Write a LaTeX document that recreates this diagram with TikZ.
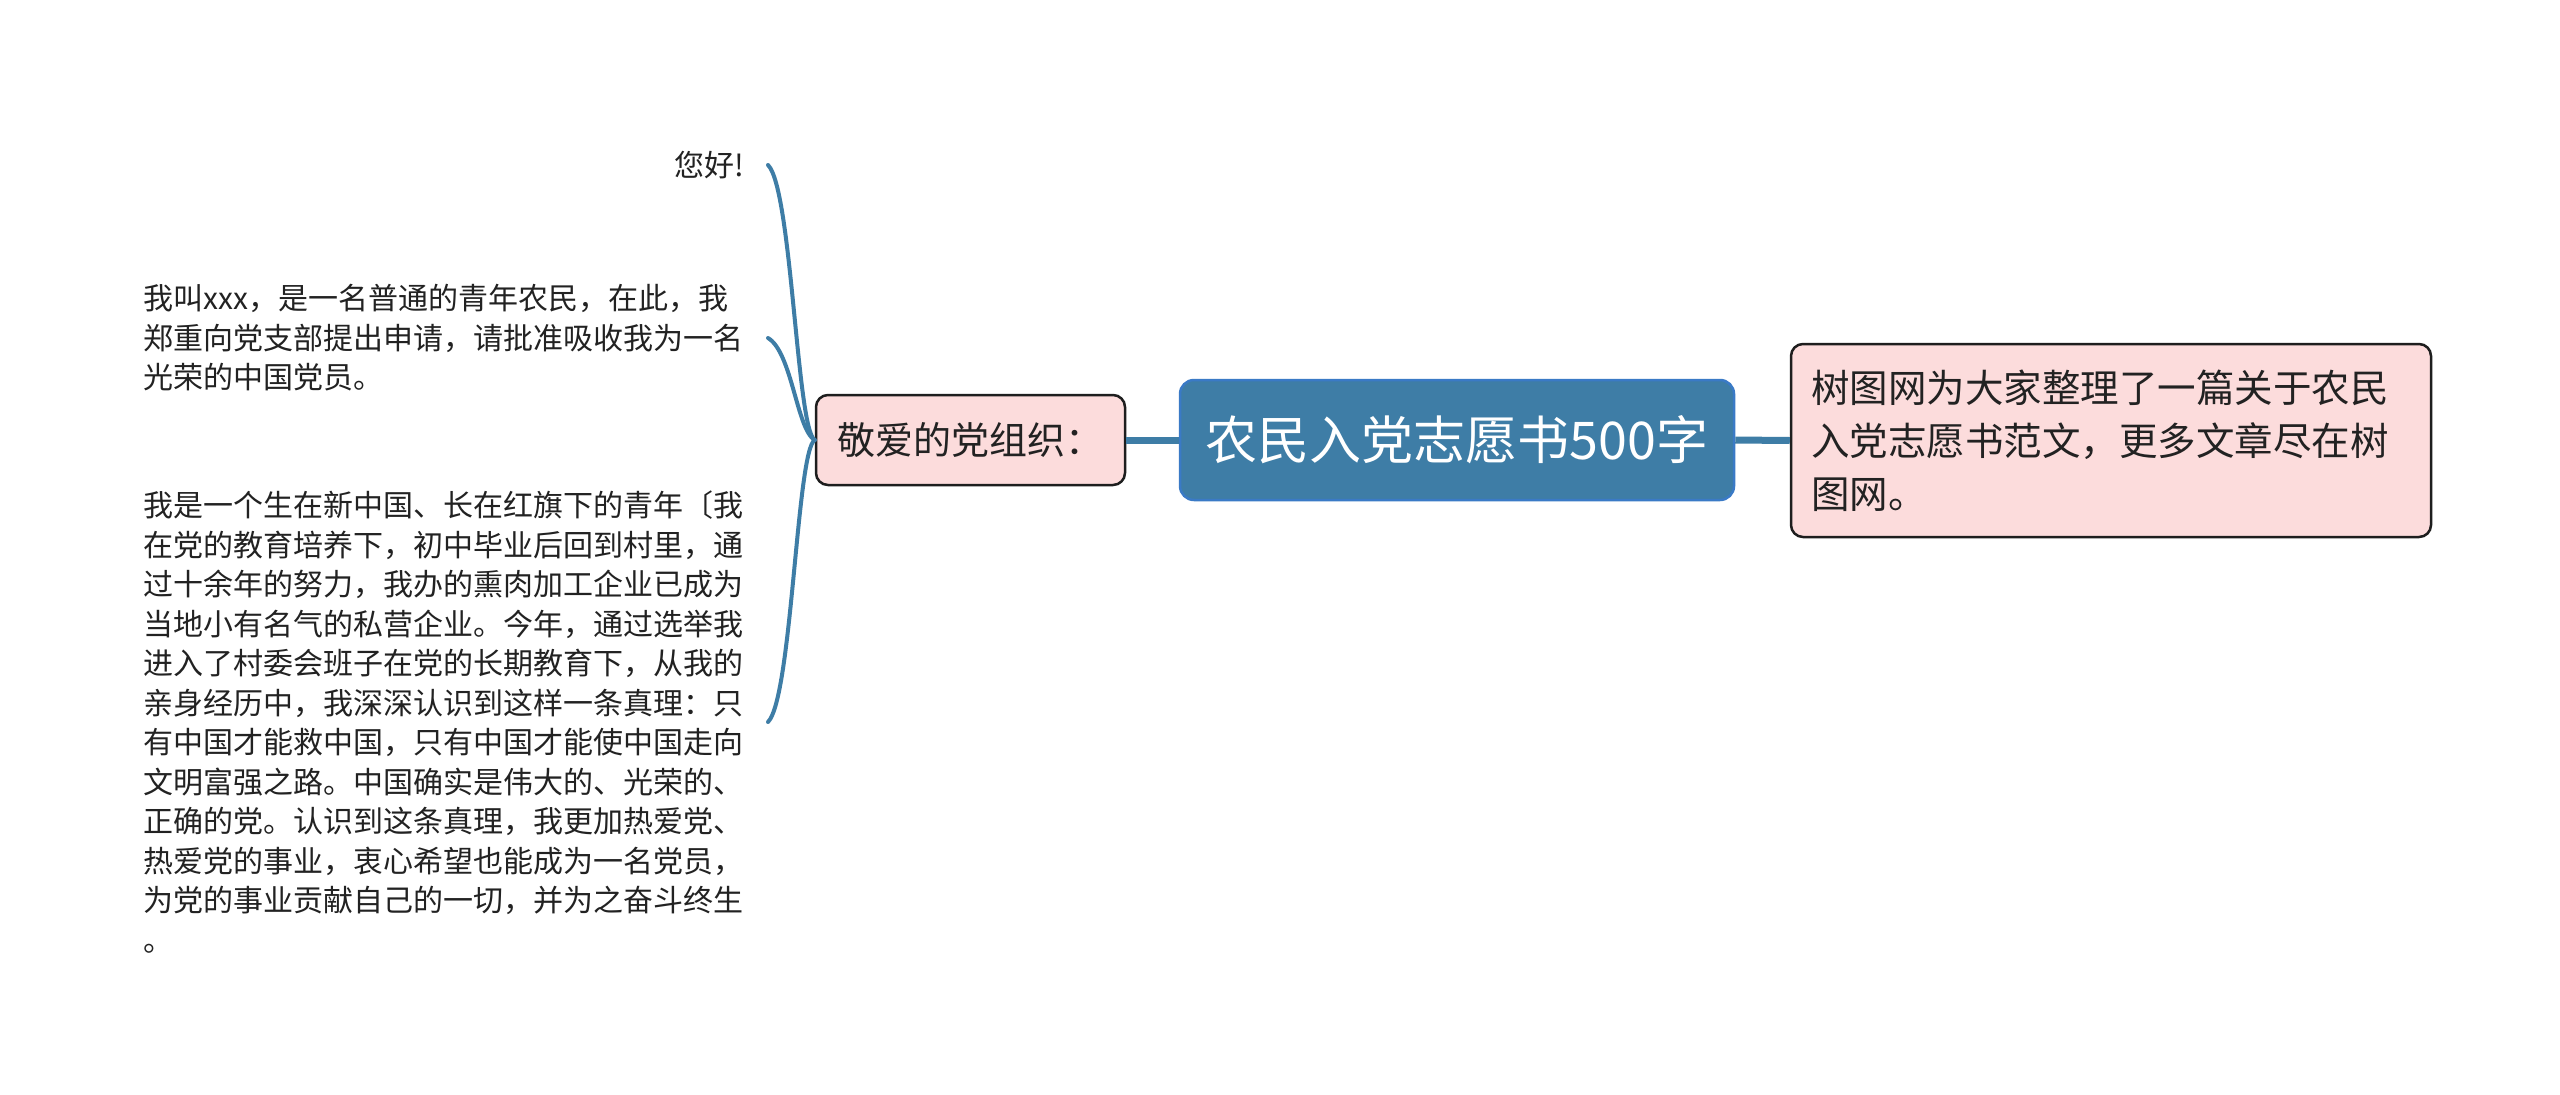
\documentclass[tikz,border=0pt]{standalone}
\usepackage{fontspec}
\setmainfont{Noto Sans CJK SC}
\definecolor{mainblue}{RGB}{62,125,166}
\definecolor{mainborder}{RGB}{58,122,198}
\definecolor{pinkfill}{RGB}{252,220,220}
\definecolor{darkborder}{RGB}{30,30,30}
\definecolor{textdark}{RGB}{34,34,34}
\tikzset{
  centerbox/.style={draw=mainborder, line width=2.5pt, fill=mainblue, rounded corners=14pt,
    minimum width=554pt, minimum height=120pt, inner sep=0pt, text=white,
    font=\fontsize{52}{60}\selectfont},
  pinkbox/.style={draw=darkborder, line width=2.5pt, fill=pinkfill, rounded corners=12pt,
    text=textdark},
  leaftext/.style={inner xsep=24pt, inner ysep=0pt, text=textdark,
    font=\fontsize{30}{39.5}\selectfont},
  thickconn/.style={draw=mainblue, line width=7pt},
  curveconn/.style={draw=mainblue, line width=4pt, line cap=round},
}
\begin{document}
\begin{tikzpicture}[x=1pt,y=-1pt]
\useasboundingbox (0,0) rectangle (2560,1095);
\fill[white] (0,0) rectangle (2560,1095);

\node[centerbox] (root) at (1457,440) {农民入党志愿书500字};

\node[pinkbox, minimum width=309pt, minimum height=90pt, inner sep=0pt,
  font=\fontsize{38}{46}\selectfont] (left) at (970.5,440) {敬爱的党组织：};

\node[pinkbox, text width=600pt, inner xsep=20pt, inner ysep=0pt, minimum height=193pt,
  align=left, font=\fontsize{38.5}{53}\selectfont] (right) at (2111,440.5)
  {树图网为大家整理了一篇关于农民\\入党志愿书范文，更多文章尽在树\\图网。};

\node[leaftext, anchor=east, align=right] (l1) at (768,165) {您好!};

\node[leaftext, anchor=east, text width=600pt, align=left] (l2) at (768,338)
  {我叫xxx，是一名普通的青年农民，在此，我\\郑重向党支部提出申请，请批准吸收我为一名\\光荣的中国党员。};

\node[leaftext, anchor=east, text width=600pt, align=left] (l3) at (768,722)
  {我是一个生在新中国、长在红旗下的青年〔我\\在党的教育培养下，初中毕业后回到村里，通\\过十余年的努力，我办的熏肉加工企业已成为\\当地小有名气的私营企业。今年，通过选举我\\进入了村委会班子在党的长期教育下，从我的\\亲身经历中，我深深认识到这样一条真理：只\\有中国才能救中国，只有中国才能使中国走向\\文明富强之路。中国确实是伟大的、光荣的、\\正确的党。认识到这条真理，我更加热爱党、\\热爱党的事业，衷心希望也能成为一名党员，\\为党的事业贡献自己的一切，并为之奋斗终生\\。};

\draw[thickconn] (root.west) -- (left.east);
\draw[thickconn] (root.east) -- (right.west);

\draw[curveconn] (left.west) .. controls ++(-18,-10) and ++(24,24) .. (l1.east);
\draw[curveconn] (left.west) .. controls ++(-18,-10) and ++(24,14) .. (l2.east);
\draw[curveconn] (left.west) .. controls ++(-18,10) and ++(24,-24) .. (l3.east);
\end{tikzpicture}
\end{document}
